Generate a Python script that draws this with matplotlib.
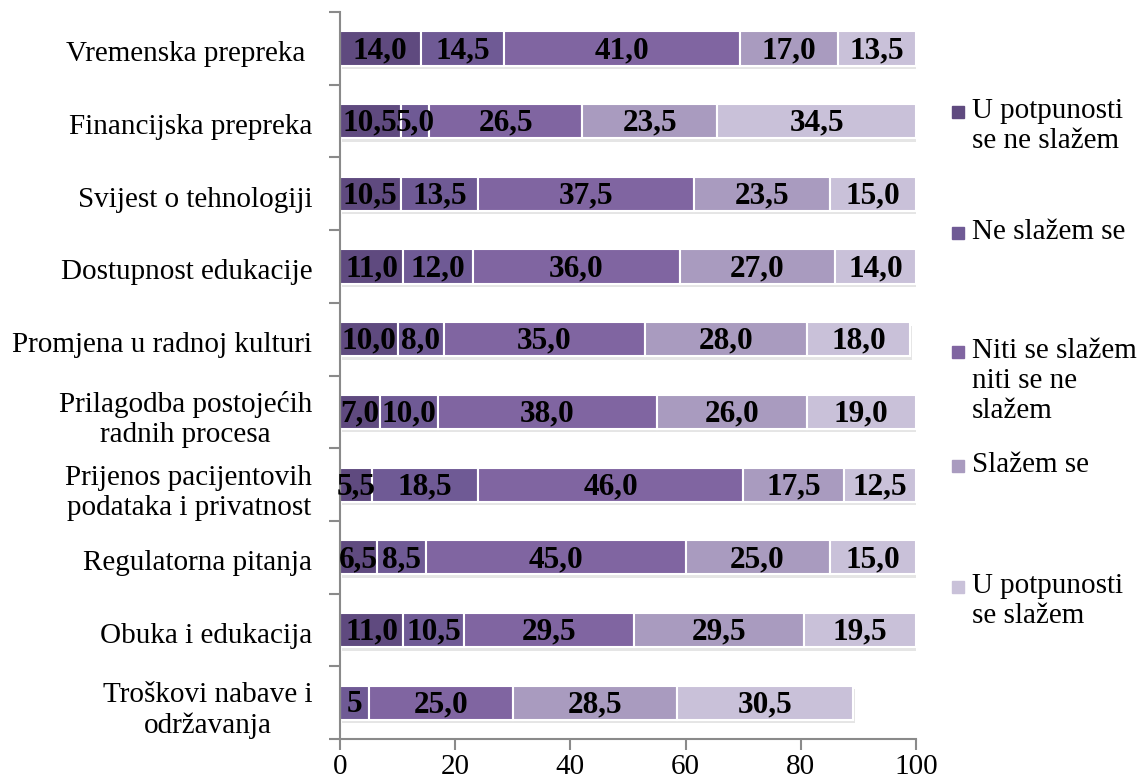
import matplotlib as mpl
import matplotlib.pyplot as plt
import matplotlib.patheffects as pe
from matplotlib.patches import Rectangle
import numpy as np

mpl.use("Agg")

categories = [
    "Vremenska prepreka ",
    "Financijska prepreka",
    "Svijest o tehnologiji",
    "Dostupnost edukacije",
    "Promjena u radnoj kulturi",
    "Prilagodba postojećih\nradnih procesa",
    "Prijenos pacijentovih\npodataka i privatnost",
    "Regulatorna pitanja",
    "Obuka i edukacija",
    "Troškovi nabave i\nodržavanja",
]

series_names = [
    "U potpunosti\nse ne slažem",
    "Ne slažem se",
    "Niti se slažem\nniti se ne\nslažem",
    "Slažem se",
    "U potpunosti\nse slažem",
]

strongly_disagree = [14.0, 10.5, 10.5, 11.0, 10.0, 7.0, 5.5, 6.5, 11.0, 0.0]
disagree = [14.5, 5.0, 13.5, 12.0, 8.0, 10.0, 18.5, 8.5, 10.5, 5.0]
neutral = [41.0, 26.5, 37.5, 36.0, 35.0, 38.0, 46.0, 45.0, 29.5, 25.0]
agree = [17.0, 23.5, 23.5, 27.0, 28.0, 26.0, 17.5, 25.0, 29.5, 28.5]
strongly_agree = [13.5, 34.5, 15.0, 14.0, 18.0, 19.0, 12.5, 15.0, 19.5, 30.5]

# label shown as "5" in the source instead of "5,0"
label_override = {(9, 1): "5"}

colors = ["#5f4a7f", "#6f5a95", "#8065a1", "#a99bbf", "#c9c1d9"]

plt.rcParams["font.family"] = ["Liberation Serif", "DejaVu Serif"]
fs = 21
fs_bar = 22.5

fig = plt.figure(figsize=(11.43, 7.8), dpi=100)
ax = fig.add_axes([0.2975, 0.0525, 0.5039, 0.932])

data = [strongly_disagree, disagree, neutral, agree, strongly_agree]
y = np.arange(len(categories))
left = np.zeros(len(categories))
shadow = [pe.SimplePatchShadow(offset=(1.5, -2.5), shadow_rgbFace="#9a9a9a", alpha=0.25), pe.Normal()]
for s, vals in enumerate(data):
    vals = np.array(vals)
    bars = ax.barh(y, vals, left=left, height=0.47, color=colors[s],
                   edgecolor="white", linewidth=1.5, zorder=2)
    for b in bars:
        b.set_path_effects(shadow)
    for i, v in enumerate(vals):
        if v <= 0:
            continue
        txt = label_override.get((i, s), f"{v:.1f}".replace(".", ","))
        ax.text(left[i] + v / 2, y[i] + 0.03, txt, ha="center", va="center",
                fontsize=fs_bar, fontweight="bold", color="black", zorder=3)
    left += vals

ax.set_xlim(0, 100)
ax.set_ylim(len(categories) - 0.5, -0.5)

for sp in ["top", "right"]:
    ax.spines[sp].set_visible(False)
for sp in ["left", "bottom"]:
    ax.spines[sp].set_color("#8a8a8a")
    ax.spines[sp].set_linewidth(1.5)

ax.set_xticks(np.arange(0, 101, 20))
ax.tick_params(axis="x", direction="out", length=8, width=1.5, color="#8a8a8a",
               labelsize=fs, pad=3)

ax.set_yticks(np.arange(-0.5, len(categories), 1.0))
ax.set_yticklabels([])
ax.tick_params(axis="y", which="major", direction="out", length=8, width=1.5, color="#8a8a8a")
ax.set_yticks(y + 0.04, minor=True)
ax.set_yticklabels(categories, minor=True, fontsize=fs, multialignment="center",
                   linespacing=1.2)
ax.tick_params(axis="y", which="minor", length=0, pad=20)

# legend, entries placed with top-aligned text like the source
leg_tops = [0.874, 0.719, 0.567, 0.420, 0.265]
for name, c, top in zip(series_names, colors, leg_tops):
    fig.patches.append(Rectangle((0.833, top - 0.0257), 0.0105, 0.0154,
                                 transform=fig.transFigure, color=c))
    fig.text(0.85, top, name, fontsize=fs, va="top", ha="left",
             linespacing=1.2)

plt.savefig("out.png", dpi=100)
